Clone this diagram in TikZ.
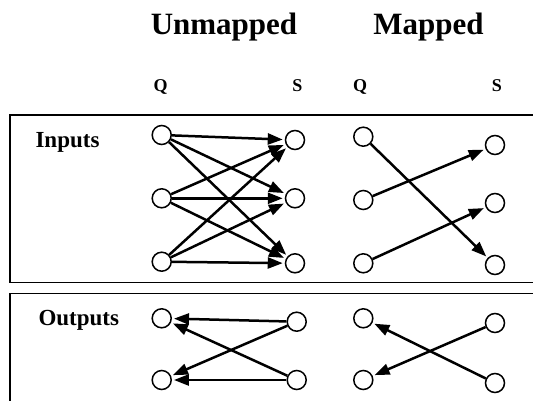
\documentclass[tikz,border=0pt]{standalone}
\usepackage{fontspec}
\setmainfont{Liberation Serif}
\usetikzlibrary{arrows.meta}
\begin{document}
\begin{tikzpicture}[x=1pt,y=-1pt,
  vert/.style={circle,draw,line width=1.5pt,minimum size=19pt,inner sep=0pt},
  conn/.style={line width=2.5pt,-{Triangle[length=15pt,width=11pt]},shorten >=2pt},
  panel/.style={draw,line width=1.7pt},
  head/.style={font=\fontsize{31}{36}\selectfont\bfseries,anchor=base},
  col/.style={font=\fontsize{18}{21}\selectfont\bfseries,anchor=base},
  sect/.style={font=\fontsize{23}{27}\selectfont\bfseries,anchor=base west}]
\useasboundingbox (0,0) rectangle (533,401);
\clip (0,0) rectangle (533,401);
% panels
\draw[panel] (10,115) rectangle (560,282.5);
\draw[panel] (10,293.5) rectangle (560,430);
% headings
\node[head] (hu) at (224,35) {Unmapped};
\node[head] (hm) at (428.5,35) {Mapped};
\node[col] (q1) at (160.5,92) {Q};
\node[col] (s1) at (297.5,92) {S};
\node[col] (q2) at (360,92) {Q};
\node[col] (s2) at (497,92) {S};
\node[sect] (lin) at (32,148) {Inputs};
\node[sect] (lout) at (35,325) {Outputs};
% inputs unmapped
\node[vert] (a1) at (161.7,135) {};
\node[vert] (a2) at (161.7,198.3) {};
\node[vert] (a3) at (161.7,261.7) {};
\node[vert] (b1) at (295,140) {};
\node[vert] (b2) at (295,198.3) {};
\node[vert] (b3) at (295,263.3) {};
\foreach \i in {1,2,3}{\foreach \j in {1,2,3}{\draw[conn] (a\i) -- (b\j);}}
% inputs mapped
\node[vert] (c1) at (363.3,136.7) {};
\node[vert] (c2) at (363.3,200) {};
\node[vert] (c3) at (363.3,263.3) {};
\node[vert] (d1) at (495,145) {};
\node[vert] (d2) at (495,203) {};
\node[vert] (d3) at (495,265) {};
\draw[conn] (c1) -- (d3);
\draw[conn] (c2) -- (d1);
\draw[conn] (c3) -- (d2);
% outputs unmapped
\node[vert] (e1) at (161.7,318.3) {};
\node[vert] (e2) at (161.7,380) {};
\node[vert] (f1) at (296.7,321.7) {};
\node[vert] (f2) at (296.7,380) {};
\foreach \i in {1,2}{\foreach \j in {1,2}{\draw[conn] (f\i) -- (e\j);}}
% outputs mapped
\node[vert] (g1) at (363.3,318.3) {};
\node[vert] (g2) at (363.3,380) {};
\node[vert] (h1) at (495,323) {};
\node[vert] (h2) at (495,383) {};
\draw[conn] (h1) -- (g2);
\draw[conn] (h2) -- (g1);
\end{tikzpicture}
\end{document}
